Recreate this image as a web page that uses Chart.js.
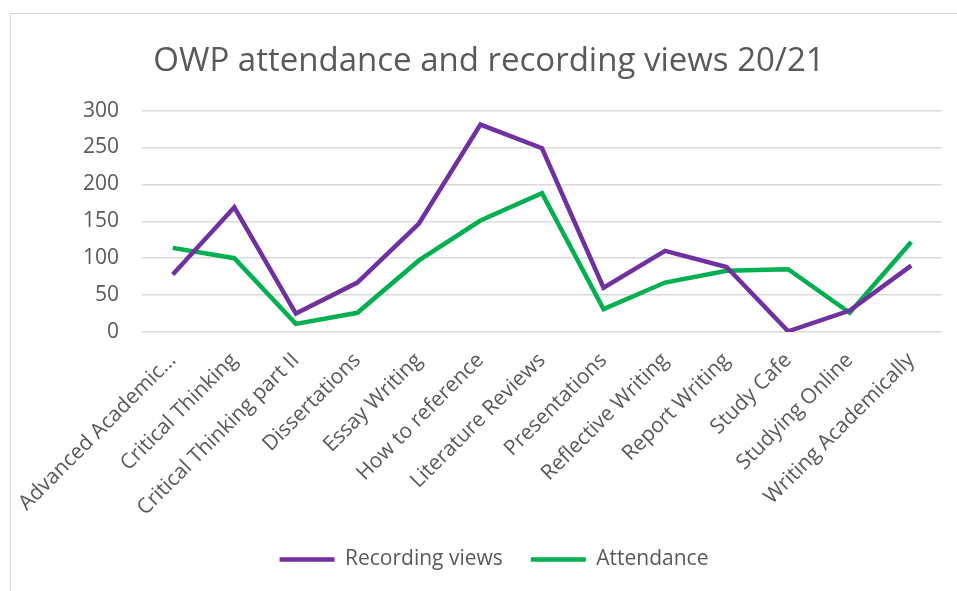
<!DOCTYPE html>
<html>
<head>
<meta charset="utf-8">
<script src="https://cdn.jsdelivr.net/npm/chart.js@4"></script>
<style>
  body { margin: 0; background: #fff; }
  #quadro { position: absolute; left: 10px; top: 13px; width: 960px; height: 600px;
            border-left: 1px solid #d4d4d4; border-top: 1px solid #d4d4d4; }
  #grafico { position: absolute; left: 0; top: 0; }
</style>
</head>
<body>
<div id="quadro"></div>
<canvas id="grafico" width="957" height="591"></canvas>
<script>
var categorias = ['Advanced Academic...', 'Critical Thinking', 'Critical Thinking part II', 'Dissertations',
	'Essay Writing', 'How to reference', 'Literature Reviews', 'Presentations', 'Reflective Writing',
	'Report Writing', 'Study Cafe', 'Studying Online', 'Writing Academically'];

var visualizacoes = [78, 169, 25, 67, 147, 281, 249, 60, 110, 88, 1, 29, 90];
var presenca = [114, 100, 11, 26, 97, 151, 188, 31, 67, 83, 85, 26, 122];

var ticksY = [0, 50, 100, 150, 200, 250, 300];

var cinza = '#595959';
var fonte = "'Open Sans', sans-serif";

// centraliza titulo e legenda na moldura, como no Excel
var ajusteMoldura = {
	id: 'ajusteMoldura',
	afterLayout: function(chart) {
		chart.titleBlock.left += 36;
		chart.legend.left += 23;
		chart.legend.right += 23;
	}
};

var data = {
	labels: categorias,
	datasets: [
		{
			label: 'Recording views',
			data: visualizacoes,
			borderColor: '#7030a0',
			backgroundColor: '#7030a0',
			borderWidth: 4.5,
			pointRadius: 0,
			tension: 0
		},
		{
			label: 'Attendance',
			data: presenca,
			borderColor: '#00b050',
			backgroundColor: '#00b050',
			borderWidth: 4.5,
			pointRadius: 0,
			tension: 0
		}
	]
};

var grafico = new Chart(document.getElementById('grafico').getContext('2d'), {
	type: 'line',
	data: data,
	plugins: [ajusteMoldura],
	options: {
		responsive: false,
		animation: false,
		layout: { padding: { left: 0, right: 15, top: 0, bottom: 11 } },
		plugins: {
			tooltip: { enabled: false },
			title: {
				display: true,
				text: 'OWP attendance and recording views 20/21',
				color: cinza,
				font: { family: fonte, size: 33, weight: 'normal' },
				padding: { top: 42, bottom: 29 }
			},
			legend: {
				position: 'bottom',
				labels: {
					color: cinza,
					font: { family: fonte, size: 21 },
					usePointStyle: true,
					pointStyle: 'line',
					pointStyleWidth: 55,
					padding: 28
				}
			}
		},
		scales: {
			x: {
				offset: true,
				grid: { display: false },
				border: { display: false },
				ticks: {
					color: cinza,
					font: { family: fonte, size: 21 },
					maxRotation: 45,
					minRotation: 45,
					autoSkip: false,
					padding: 8
				},
				afterFit: function(scale) { scale.height = 189; }
			},
			y: {
				min: 0,
				max: 300,
				grid: { color: '#d9d9d9', lineWidth: 1.5, drawTicks: false },
				border: { display: false },
				afterBuildTicks: function(scale) {
					scale.ticks = ticksY.map(function(v) { return { value: v }; });
				},
				ticks: {
					color: cinza,
					font: { family: fonte, size: 21 },
					padding: 23
				},
				afterFit: function(scale) { scale.width = 142; }
			}
		}
	}
});
</script>
</body>
</html>
